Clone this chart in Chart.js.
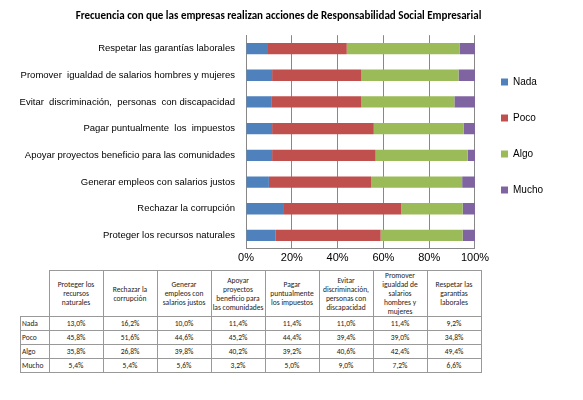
<!DOCTYPE html>
<html lang="es">
<head>
<meta charset="UTF-8">
<title>Responsabilidad Social Empresarial</title>
<script src="https://cdn.jsdelivr.net/npm/chart.js"></script>
<style>
    body { margin: 0; background: #fff; font-family: Calibri, Carlito, "Liberation Sans", sans-serif; }
    .wrap { position: relative; width: 583px; height: 400px; }
    .chart-box { position: absolute; left: 0; top: 0; width: 583px; height: 268px; }
    table { position: absolute; left: 20px; top: 270px; border-collapse: collapse; font-size: 7.5px; color: #222; table-layout: fixed; }
    td, th { border: 1px solid #999; text-align: center; padding: 0 1px; font-weight: normal; line-height: 9px; }
    th { height: 43px; }
    td { height: 13px; }
    td.rl { text-align: left; }
</style>
</head>
<body>
<div class="wrap">
    <div class="chart-box"><canvas id="chart"></canvas></div>
    <table id="tbl"></table>
</div>
<script>
// Data, top-to-bottom as drawn in the chart
const categories = [
    'Respetar las garantías laborales',
    'Promover  igualdad de salarios hombres y mujeres',
    'Evitar  discriminación,  personas  con discapacidad',
    'Pagar puntualmente  los  impuestos',
    'Apoyar proyectos beneficio para las comunidades',
    'Generar empleos con salarios justos',
    'Rechazar la corrupción',
    'Proteger los recursos naturales'
];
const nada  = [9.2, 11.4, 11.0, 11.4, 11.4, 10.0, 16.2, 13.0];
const poco  = [34.8, 39.0, 39.4, 44.4, 45.2, 44.6, 51.6, 45.8];
const algo  = [49.4, 42.4, 40.6, 39.2, 40.2, 39.8, 26.8, 35.8];
const mucho = [6.6, 7.2, 9.0, 5.0, 3.2, 5.6, 5.4, 5.4];

// Table headers (left-to-right, reverse of chart order)
const tableHeaders = [
    'Proteger los recursos naturales', 'Rechazar la corrupción', 'Generar empleos con salarios justos',
    'Apoyar proyectos beneficio para las comunidades', 'Pagar puntualmente los impuestos',
    'Evitar discriminación, personas con discapacidad', 'Promover igualdad de salarios hombres y mujeres',
    'Respetar las garantías laborales'
];

const fmt = v => v.toFixed(1).replace('.', ',') + '%';
const tbl = document.getElementById('tbl');
let html = '<tr><th style="width:26px;border-top:none;border-left:none"></th>' +
    tableHeaders.map(h => '<th style="width:51px">' + h + '</th>').join('') + '</tr>';
[['Nada', nada], ['Poco', poco], ['Algo', algo], ['Mucho', mucho]].forEach(([name, arr]) => {
    const rev = arr.slice().reverse();
    html += '<tr><td class="rl">' + name + '</td>' + rev.map(v => '<td>' + fmt(v) + '</td>').join('') + '</tr>';
});
tbl.innerHTML = html;

new Chart(document.getElementById('chart'), {
    type: 'bar',
    data: {
        labels: categories,
        datasets: [
            { label: 'Nada', data: nada, backgroundColor: '#4F81BD' },
            { label: 'Poco', data: poco, backgroundColor: '#C0504D' },
            { label: 'Algo', data: algo, backgroundColor: '#9BBB59' },
            { label: 'Mucho', data: mucho, backgroundColor: '#8064A2' }
        ]
    },
    options: {
        indexAxis: 'y',
        responsive: true,
        maintainAspectRatio: false,
        animation: false,
        layout: { padding: { left: 4, right: 30, top: 4, bottom: 0 } },
        datasets: { bar: { categoryPercentage: 0.85, barPercentage: 0.5 } },
        plugins: {
            title: {
                display: true,
                text: 'Frecuencia con que las empresas realizan acciones de Responsabilidad Social Empresarial',
                color: '#000', font: { size: 11, weight: 'bold', family: 'Carlito, Calibri, "Liberation Sans", sans-serif' },
                padding: { top: 6, bottom: 12 }
            },
            legend: {
                position: 'right',
                labels: { boxWidth: 7, boxHeight: 7, padding: 26, color: '#000', font: { size: 10 } }
            },
            tooltip: { enabled: false }
        },
        scales: {
            x: {
                stacked: true, min: 0, max: 100,
                ticks: { stepSize: 20, callback: v => v + '%', color: '#000', font: { size: 11 } },
                grid: { color: '#888', drawTicks: false },
                border: { color: '#888' }
            },
            y: {
                stacked: true,
                afterFit: s => { s.width = 242; },
                ticks: { color: '#000', font: { size: 9.5 } },
                grid: { display: false },
                border: { color: '#888' }
            }
        }
    }
});
</script>
</body>
</html>
